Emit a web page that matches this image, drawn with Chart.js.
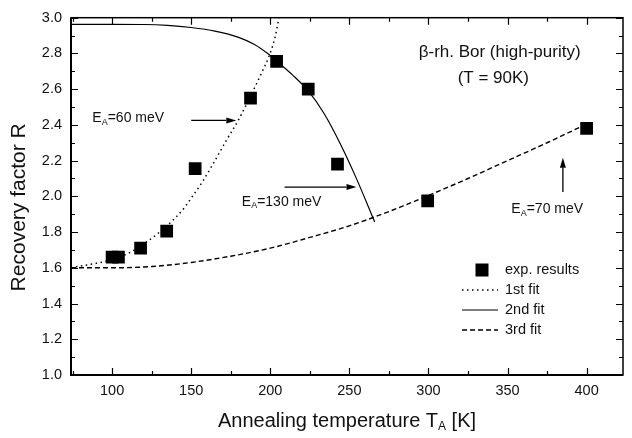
<!DOCTYPE html>
<html>
<head>
<meta charset="utf-8">
<script src="https://cdn.jsdelivr.net/npm/chart.js@4.4.1/dist/chart.umd.min.js"></script>
<style>
  html, body { margin: 0; padding: 0; background: #fff; }
  canvas { display: block; }
</style>
</head>
<body>
<canvas id="myChart" width="632" height="438"></canvas>
<script>
// Messpunkte
const expT = [100, 104, 118, 134.5, 152.5, 187.5, 204, 224, 242.5, 299.5, 400];
const expR = [1.66, 1.66, 1.71, 1.805, 2.155, 2.55, 2.755, 2.60, 2.18, 1.975, 2.38];

// 1. Fit (gepunktet)
const fit1T = [74, 80, 90, 100, 110, 121, 130, 140, 146, 150, 157, 165, 172, 180, 188, 195, 199, 203, 205.5];
const fit1R = [1.60, 1.61, 1.625, 1.645, 1.68, 1.74, 1.80, 1.88, 1.94, 1.99, 2.08, 2.20, 2.31, 2.43, 2.57, 2.70, 2.78, 2.89, 3.0];

// 2. Fit (durchgezogen)
const fit2T = [74, 100, 120, 135, 150, 165, 180, 190, 199, 204, 214, 224, 234, 244, 254, 266];
const fit2R = [2.963, 2.963, 2.962, 2.957, 2.945, 2.925, 2.89, 2.85, 2.795, 2.757, 2.68, 2.59, 2.464, 2.299, 2.109, 1.857];

// 3. Fit (gestrichelt)
const fit3T = [74, 100, 125, 150, 175, 200, 225, 250, 275, 300, 325, 350, 375, 400];
const fit3R = [1.60, 1.60, 1.607, 1.63, 1.665, 1.71, 1.77, 1.835, 1.915, 2.005, 2.10, 2.20, 2.30, 2.405];

const xTicks = [100, 150, 200, 250, 300, 350, 400];
const yTicks = [1.0, 1.2, 1.4, 1.6, 1.8, 2.0, 2.2, 2.4, 2.6, 2.8, 3.0];

const FONT = '"Liberation Sans", Arial, sans-serif';

function zip(xs, ys) {
  return xs.map((x, i) => ({ x: x, y: ys[i] }));
}

// Text mit Tiefstellung: parts = [text, size, dy]
function richText(ctx, parts, x, y, align) {
  let w = 0;
  parts.forEach((p) => {
    ctx.font = p[1] + "px " + FONT;
    w += ctx.measureText(p[0]).width;
  });
  let cx = align === "center" ? x - w / 2 : x;
  ctx.textAlign = "left";
  ctx.textBaseline = "middle";
  parts.forEach((p) => {
    ctx.font = p[1] + "px " + FONT;
    ctx.fillText(p[0], cx, y + (p[2] || 0));
    cx += ctx.measureText(p[0]).width;
  });
}

function arrow(ctx, x1, y1, x2, y2) {
  const ang = Math.atan2(y2 - y1, x2 - x1);
  const hl = 10, hw = 3;
  ctx.beginPath();
  ctx.moveTo(x1, y1);
  ctx.lineTo(x2 - Math.cos(ang) * hl, y2 - Math.sin(ang) * hl);
  ctx.stroke();
  ctx.beginPath();
  ctx.moveTo(x2, y2);
  ctx.lineTo(x2 - Math.cos(ang) * hl - Math.sin(ang) * hw, y2 - Math.sin(ang) * hl + Math.cos(ang) * hw);
  ctx.lineTo(x2 - Math.cos(ang) * hl + Math.sin(ang) * hw, y2 - Math.sin(ang) * hl - Math.cos(ang) * hw);
  ctx.closePath();
  ctx.fill();
}

// Beschriftungen in Datenkoordinaten
const notes = [
  { parts: [["β-rh. Bor (high-purity)", 17]], x: 345, y: 2.808, align: "center" },
  { parts: [["(T = 90K)", 17]], x: 341, y: 2.66, align: "center" },
  { parts: [["E", 14], ["A", 9, 4], ["=60 meV", 14]], x: 87.5, y: 2.436, align: "left" },
  { parts: [["E", 14], ["A", 9, 4], ["=130 meV", 14]], x: 182, y: 1.97, align: "left" },
  { parts: [["E", 14], ["A", 9, 4], ["=70 meV", 14]], x: 352.4, y: 1.926, align: "left" },
];
const arrows = [
  [150, 2.425, 178.5, 2.425],
  [209, 2.052, 254.5, 2.052],
  [385, 2.025, 385, 2.216],
];

const framePlugin = {
  id: "frame",
  afterDraw(chart) {
    const { ctx, chartArea: a, scales } = chart;
    const x = scales.x, y = scales.y;
    ctx.save();
    ctx.strokeStyle = "#000";
    ctx.fillStyle = "#000";

    // Teilstriche nach innen
    ctx.lineWidth = 1.2;
    ctx.beginPath();
    for (let v = xTicks[0] - 25; v <= x.max; v += 25) {
      if (v < x.min) continue;
      const px = Math.round(x.getPixelForValue(v)) + 0.5;
      const len = v % 50 === 0 ? 7 : 4;
      ctx.moveTo(px, a.bottom); ctx.lineTo(px, a.bottom - len);
      ctx.moveTo(px, a.top); ctx.lineTo(px, a.top + len);
    }
    for (let i = 0; i <= 20; i++) {
      const py = Math.round(y.getPixelForValue(1 + i * 0.1)) + 0.5;
      const len = i % 2 === 0 ? 7 : 4;
      ctx.moveTo(a.left, py); ctx.lineTo(a.left + len, py);
      ctx.moveTo(a.right, py); ctx.lineTo(a.right - len, py);
    }
    ctx.stroke();

    // Rahmen
    ctx.lineWidth = 1.5;
    ctx.strokeRect(a.left, a.top, a.right - a.left, a.bottom - a.top);
    ctx.lineWidth = 2;
    ctx.beginPath();
    ctx.moveTo(a.left, a.top); ctx.lineTo(a.left, a.bottom); ctx.lineTo(a.right, a.bottom);
    ctx.stroke();

    // Achsentitel
    ctx.fillStyle = "#111";
    richText(ctx, [["Annealing temperature T", 20], ["A", 12, 6], [" [K]", 20]], (a.left + a.right) / 2, 421, "center");
    ctx.save();
    ctx.translate(19, (a.top + a.bottom) / 2 + 11);
    ctx.rotate(-Math.PI / 2);
    richText(ctx, [["Recovery factor R", 21]], 0, 0, "center");
    ctx.restore();

    // Anmerkungen
    notes.forEach((n) => {
      richText(ctx, n.parts, x.getPixelForValue(n.x), y.getPixelForValue(n.y), n.align);
    });
    ctx.fillStyle = "#000";
    ctx.lineWidth = 1.3;
    arrows.forEach((r) => {
      arrow(ctx, x.getPixelForValue(r[0]), y.getPixelForValue(r[1]), x.getPixelForValue(r[2]), y.getPixelForValue(r[3]));
    });

    // Legende
    const lx = 462, ly = 270, step = 20;
    ctx.fillRect(475.5, ly - 6.5, 13, 13);
    const ds = chart.data.datasets;
    for (let i = 1; i <= 3; i++) {
      const yy = ly + i * step;
      ctx.save();
      ctx.lineWidth = ds[i].borderWidth;
      ctx.setLineDash(ds[i].borderDash || []);
      ctx.beginPath();
      ctx.moveTo(lx, yy); ctx.lineTo(lx + 36, yy);
      ctx.stroke();
      ctx.restore();
    }
    ctx.fillStyle = "#111";
    ds.forEach((d, i) => {
      richText(ctx, [[d.label, 14.5]], 505, ly + i * step, "left");
    });
    ctx.restore();
  },
};

const ctx = document.getElementById("myChart").getContext("2d");
new Chart(ctx, {
  type: "scatter",
  data: {
    datasets: [
      {
        label: "exp. results",
        data: zip(expT, expR),
        pointStyle: "rect",
        pointRadius: 9,
        backgroundColor: "#000",
        borderWidth: 0,
      },
      {
        label: "1st fit",
        data: zip(fit1T, fit1R),
        showLine: true,
        pointRadius: 0,
        borderColor: "#000",
        borderWidth: 1.5,
        borderDash: [1.5, 3.5],
        cubicInterpolationMode: "monotone",
      },
      {
        label: "2nd fit",
        data: zip(fit2T, fit2R),
        showLine: true,
        pointRadius: 0,
        borderColor: "#000",
        borderWidth: 1.2,
        cubicInterpolationMode: "monotone",
      },
      {
        label: "3rd fit",
        data: zip(fit3T, fit3R),
        showLine: true,
        pointRadius: 0,
        borderColor: "#000",
        borderWidth: 1.4,
        borderDash: [5, 3],
        cubicInterpolationMode: "monotone",
      },
    ],
  },
  options: {
    responsive: false,
    animation: false,
    layout: { padding: { top: 10, right: 2, left: 0, bottom: 0 } },
    plugins: {
      legend: { display: false },
      tooltip: { enabled: false },
    },
    scales: {
      x: {
        type: "linear",
        min: 74,
        max: 423,
        afterBuildTicks: (s) => { s.ticks = xTicks.map((v) => ({ value: v })); },
        afterFit: (s) => { s.height = 63; },
        grid: { display: false, drawTicks: false },
        border: { display: false },
        ticks: {
          color: "#111",
          font: { family: FONT, size: 14.5 },
          padding: 7,
          maxRotation: 0,
          autoSkip: false,
        },
      },
      y: {
        min: 1,
        max: 3,
        afterBuildTicks: (s) => { s.ticks = yTicks.map((v) => ({ value: v })); },
        afterFit: (s) => { s.width = 71; },
        grid: { display: false, drawTicks: false },
        border: { display: false },
        ticks: {
          color: "#111",
          font: { family: FONT, size: 14.5 },
          padding: 9,
          callback: (v) => Number(v).toFixed(1),
        },
      },
    },
  },
  plugins: [framePlugin],
});
</script>
</body>
</html>
